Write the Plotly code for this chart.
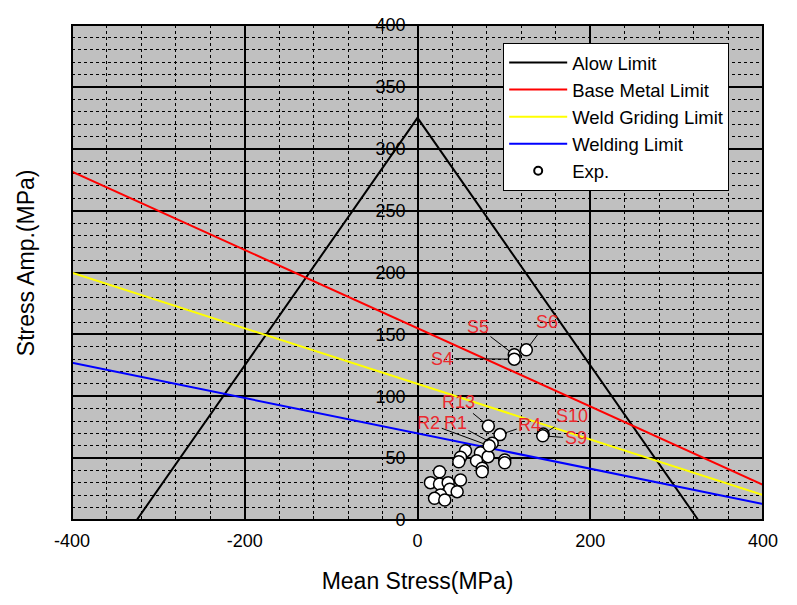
import plotly.graph_objects as go

# ---- data ----
limit_x = [-400, 400]
base_metal_y = [281.5, 28.5]
weld_grinding_y = [199.8, 20.2]
welding_y = [127.1, 12.9]
alow_x = [-325, 0, 325]
alow_y = [0, 325, 0]

x_tick_vals = [-400, -200, 0, 200, 400]
x_tick_text = ["-400", "-200", "0", "200", "400"]

label_names = ["S5", "S4", "S6", "R13", "R4", "R1", "R2", "S10", "S9"]
label_mean = [112, 112, 126, 82, 95.5, 86.5, 83, 145.5, 145]
label_amp = [133.5, 130, 137.5, 76, 69, 62, 60, 69.5, 68]

other_mean = [55.6, 49.8, 47.8, 72.9, 81.8, 68.3, 74.9, 74.9, 101, 101,
              25.5, 15, 25.5, 35.5, 49.8, 37.4, 45.9, 26.6, 19.7, 31.6]
other_amp = [56, 50.7, 47.1, 54.4, 51.2, 47.9, 41.8, 39, 48.5, 46.3,
             39, 30.2, 29.1, 30.2, 32.3, 24.8, 22.9, 20.2, 17.5, 16.2]

# label text placement (layout)
label_text_x = [70, 28, 150, 48, 130, 44, 13, 179, 183]
label_text_y = [156, 130.5, 160, 95.5, 77, 78, 78, 84, 66]

FONT = "Liberation Sans, Arial, sans-serif"

fig = go.Figure()
fig.add_trace(go.Scatter(x=alow_x, y=alow_y, mode="lines", name="Alow Limit",
                         line=dict(color="black", width=2)))
fig.add_trace(go.Scatter(x=limit_x, y=base_metal_y, mode="lines", name="Base Metal Limit",
                         line=dict(color="#ff0000", width=2)))
fig.add_trace(go.Scatter(x=limit_x, y=weld_grinding_y, mode="lines", name="Weld Griding Limit",
                         line=dict(color="#ffff00", width=2)))
fig.add_trace(go.Scatter(x=limit_x, y=welding_y, mode="lines", name="Welding Limit",
                         line=dict(color="#0000ff", width=2)))
fig.add_trace(go.Scatter(x=other_mean + label_mean, y=other_amp + label_amp, mode="markers",
                         name="Exp.", showlegend=False,
                         marker=dict(size=12, color="white", line=dict(color="black", width=1.5))))
fig.add_trace(go.Scatter(x=[None], y=[None], mode="markers", name="Exp.",
                         marker=dict(size=8, color="white", line=dict(color="black", width=2))))

for n, px, py, tx, ty in zip(label_names, label_mean, label_amp, label_text_x, label_text_y):
    fig.add_annotation(x=px, y=py, ax=tx, ay=ty, axref="x", ayref="y", xref="x", yref="y",
                       text=n, showarrow=True, arrowhead=0, arrowwidth=1, arrowcolor="black",
                       standoff=5, font=dict(color="#ec2a2f", size=18, family=FONT))

fig.add_annotation(x=-0.0665, y=0.519, xref="paper", yref="paper", text="Stress Amp.(MPa)",
                   xanchor="center", yanchor="middle",
                   textangle=-90, showarrow=False, font=dict(size=23, color="black", family=FONT))

fig.add_shape(type="rect", xref="paper", yref="paper", x0=0, y0=0, x1=1, y1=1,
              line=dict(color="black", width=2), layer="above")

fig.update_layout(
    width=797, height=605,
    margin=dict(l=64, r=42, t=17, b=93),
    paper_bgcolor="white", plot_bgcolor="#c0c0c0",
    font=dict(family=FONT, color="black", size=18),
    legend=dict(x=0.624, y=0.9636, xanchor="left", yanchor="top", bgcolor="white",
                bordercolor="black", borderwidth=1, font=dict(size=18.5),
                itemwidth=58, tracegroupgap=0),
    xaxis=dict(range=[-400, 400], tickmode="array", tickvals=x_tick_vals, ticktext=x_tick_text,
               showgrid=True, gridcolor="black", automargin=False, ticklabelstandoff=8,
               gridwidth=1.5, zeroline=False, showline=False, ticks="inside", ticklen=6,
               tickcolor="black", tickfont=dict(size=18),
               title=dict(text="Mean Stress(MPa)", font=dict(size=23), standoff=22),
               minor=dict(tick0=0, dtick=40, showgrid=True, gridcolor="black", griddash="dot",
                          gridwidth=1, ticks="inside", ticklen=4, tickcolor="black")),
    yaxis=dict(range=[0, 400], dtick=50, tick0=0, showgrid=True, gridcolor="black",
               gridwidth=1.5, zeroline=False, showline=False, anchor="free", position=0.5,
               ticks="", tickfont=dict(size=18), automargin=False, ticklabelstandoff=12,
               minor=dict(dtick=10, showgrid=True, gridcolor="black", griddash="dot",
                          gridwidth=1)),
)
fig.write_html("out.html")
